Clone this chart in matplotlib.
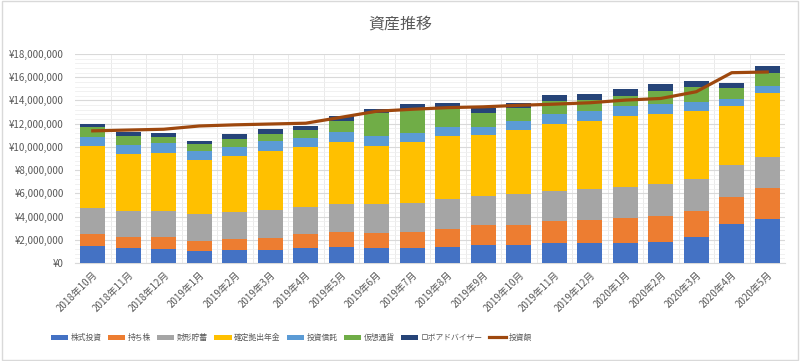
import matplotlib
matplotlib.use("Agg")
import matplotlib.pyplot as plt
import numpy as np
from matplotlib.ticker import FuncFormatter, MultipleLocator, FixedLocator
from matplotlib.patches import Rectangle, Patch
from matplotlib.lines import Line2D

plt.rcParams['font.family'] = ['Noto Sans CJK JP', 'DejaVu Sans']

months = ["2018年10月", "2018年11月", "2018年12月", "2019年1月", "2019年2月", "2019年3月",
          "2019年4月", "2019年5月", "2019年6月", "2019年7月", "2019年8月", "2019年9月",
          "2019年10月", "2019年11月", "2019年12月", "2020年1月", "2020年2月", "2020年3月",
          "2020年4月", "2020年5月"]

# values in millions of yen
kabushiki = [1.48, 1.31, 1.20, 1.06, 1.12, 1.14, 1.25, 1.34, 1.29, 1.29,
             1.42, 1.51, 1.55, 1.72, 1.72, 1.68, 1.77, 2.23, 3.37, 3.78]
mochikabu = [1.03, 0.95, 1.06, 0.85, 0.94, 1.01, 1.21, 1.32, 1.31, 1.40,
             1.55, 1.72, 1.76, 1.94, 2.02, 2.18, 2.32, 2.29, 2.35, 2.66]
zaikei = [2.21, 2.26, 2.26, 2.32, 2.34, 2.43, 2.35, 2.40, 2.46, 2.46,
          2.55, 2.55, 2.64, 2.55, 2.61, 2.72, 2.72, 2.72, 2.72, 2.71]
kakutei = [5.35, 4.89, 4.97, 4.61, 4.84, 5.09, 5.17, 5.35, 5.03, 5.24,
           5.43, 5.26, 5.49, 5.75, 5.92, 6.09, 6.01, 5.81, 5.06, 5.49]
toushin = [0.75, 0.72, 0.81, 0.83, 0.77, 0.83, 0.80, 0.83, 0.84, 0.77,
           0.78, 0.66, 0.80, 0.83, 0.78, 0.83, 0.85, 0.82, 0.63, 0.64]
kasou = [0.85, 0.80, 0.54, 0.54, 0.66, 0.60, 0.64, 0.97, 1.95, 2.11,
         1.60, 1.23, 1.09, 1.14, 0.97, 0.86, 1.15, 1.29, 0.92, 1.08]
robo = [0.31, 0.34, 0.34, 0.31, 0.43, 0.40, 0.39, 0.41, 0.39, 0.40,
        0.43, 0.46, 0.43, 0.58, 0.57, 0.60, 0.63, 0.55, 0.48, 0.57]
toushigaku = [11.38, 11.45, 11.52, 11.80, 11.90, 11.97, 12.04, 12.55, 13.07, 13.24,
              13.38, 13.45, 13.58, 13.68, 13.80, 14.03, 14.17, 14.75, 16.39, 16.45]

series_names = ["株式投資", "持ち株", "財形貯蓄", "確定拠出年金", "投資信託", "仮想通貨", "ロボアドバイザー"]
line_name = "投資額"
colors = ["#4472C4", "#ED7D31", "#A5A5A5", "#FFC000", "#5B9BD5", "#70AD47", "#264478"]
line_color = "#9E480E"

series = [kabushiki, mochikabu, zaikei, kakutei, toushin, kasou, robo]
M = 1_000_000

fig = plt.figure(figsize=(8.0, 3.61), dpi=100)
ax = fig.add_axes([75/800, 1-263/361, 710/800, (263-54)/361])

x = np.arange(len(months))
bottom = np.zeros(len(months))
for vals, c, name in zip(series, colors, series_names):
    v = np.array(vals) * M
    ax.bar(x, v, width=0.7, bottom=bottom, color=c, label=name, zorder=3)
    bottom += v
ax.plot(x, np.array(toushigaku) * M, color=line_color, lw=2.3, zorder=4, label=line_name)

ax.set_xlim(-0.5, len(months) - 0.5)
ax.set_ylim(0, 18 * M)
ax.yaxis.set_major_locator(MultipleLocator(2 * M))
ax.yaxis.set_minor_locator(MultipleLocator(0.4 * M))
ax.yaxis.set_major_formatter(FuncFormatter(lambda v, p: "¥{:,.0f}".format(v)))
ax.set_xticks(x)
ax.set_xticklabels(months, rotation=45, ha='right', rotation_mode='anchor')
ax.xaxis.set_minor_locator(FixedLocator(np.arange(0.5, len(months) - 0.5, 1)))

ax.grid(axis='y', which='major', color='#D9D9D9', lw=0.8, zorder=0)
ax.grid(axis='y', which='minor', color='#EFEFEF', lw=0.6, zorder=0)
ax.grid(axis='x', which='minor', color='#E6E6E6', lw=0.6, zorder=0)

for s in ['top', 'right', 'left']:
    ax.spines[s].set_visible(False)
ax.spines['bottom'].set_color('#D9D9D9')
ax.tick_params(axis='both', which='both', length=0, colors='#595959', labelsize=7)
ax.tick_params(axis='y', pad=8)
ax.tick_params(axis='x', pad=5)

fig.text(0.5, 1 - 24/361, "資産推移", ha='center', va='center', fontsize=11.5, color='#595959')

handles = [Patch(facecolor=c, label=n) for c, n in zip(colors, series_names)]
handles.append(Line2D([0], [0], color=line_color, lw=2.3, label=line_name))
fig.legend(handles=handles, loc='center left', bbox_to_anchor=(44/800, 1 - 338/361), ncol=8,
           frameon=False, fontsize=5.6, labelcolor='#595959', handlelength=2.2, handleheight=0.6,
           handletextpad=0.35, columnspacing=0.8)

fig.patches.append(Rectangle((0.002, 0.003), 0.996, 0.994, transform=fig.transFigure,
                             fill=False, edgecolor='#D9D9D9', lw=1.0))

fig.savefig("out.png", dpi=100)
